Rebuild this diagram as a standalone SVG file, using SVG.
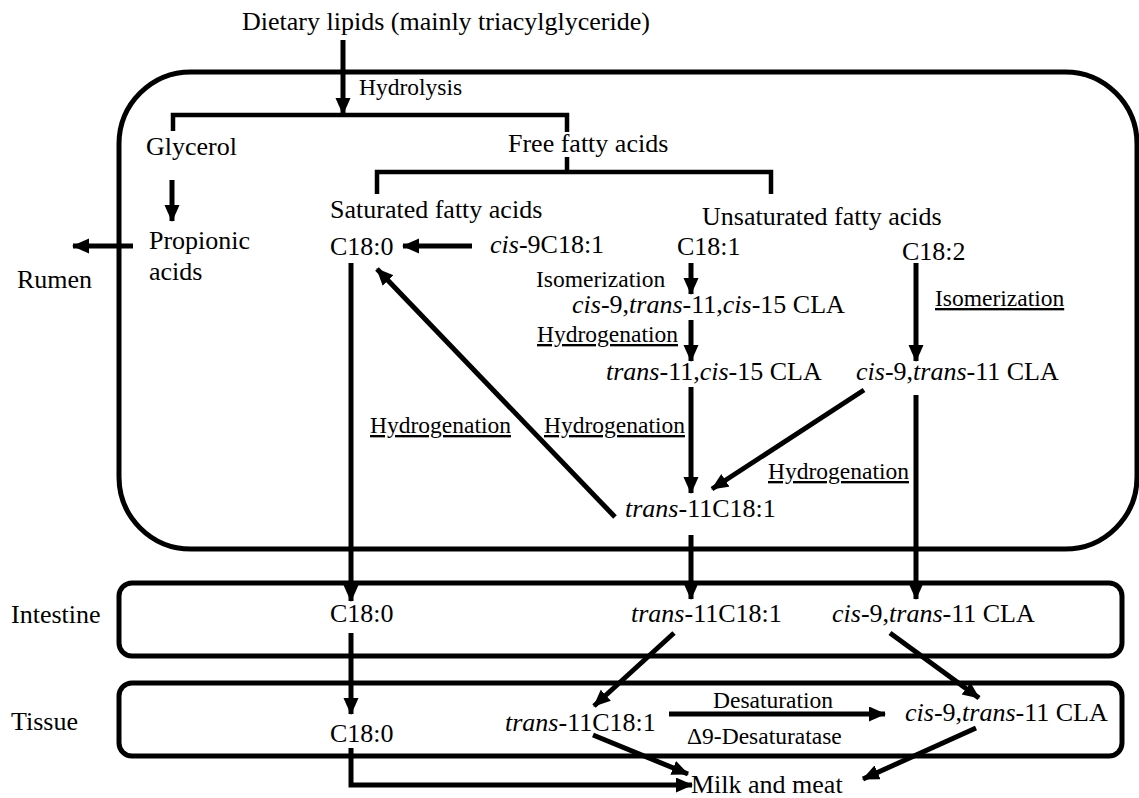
<svg xmlns="http://www.w3.org/2000/svg" width="1139" height="798" viewBox="0 0 1139 798">
<defs>
<marker id="ah" markerUnits="userSpaceOnUse" markerWidth="18" markerHeight="16" refX="16" refY="7.5" orient="auto">
<path d="M0,0 L17,7.5 L0,15 z" fill="#000"/>
</marker>
<style>
text{font-family:"Liberation Serif","Times New Roman",serif;fill:#000;}
.t{font-size:26px;}
.s{font-size:23.5px;}
.u{font-size:23.5px;text-decoration:underline;}
.box{fill:none;stroke:#000;stroke-width:5;}
.c{fill:none;stroke:#000;stroke-width:4.5;}
.a{fill:none;stroke:#000;stroke-width:5;marker-end:url(#ah);}
</style>
</defs>
<rect width="1139" height="798" fill="#fff"/>
<g id="compartments">
<rect id="rumen-box" class="box" x="119" y="72" width="1018" height="477" rx="72"/>
<rect id="intestine-box" class="box" x="119" y="583" width="1003" height="73" rx="13"/>
<rect id="tissue-box" class="box" x="119" y="683" width="1003" height="73" rx="13"/>
</g>
<g id="connectors">
<line class="a" x1="343" y1="40" x2="343" y2="114"/>
<path class="c" d="M173,131 V115 H567 V132"/>
<path class="c" d="M567,157 V172"/>
<path class="c" d="M377,194 V172 H771 V194"/>
<line class="a" x1="172" y1="180" x2="172" y2="221"/>
<line class="a" x1="133" y1="246" x2="73" y2="246"/>
<line class="a" x1="472" y1="246" x2="403" y2="246"/>
<line class="a" x1="691" y1="263" x2="691" y2="294"/>
<line class="a" x1="691" y1="320" x2="691" y2="361"/>
<line class="a" x1="916" y1="263" x2="916" y2="361"/>
<line class="a" x1="351" y1="263" x2="351" y2="601"/>
<line class="a" x1="615" y1="517" x2="377" y2="269"/>
<line class="a" x1="691" y1="387" x2="691" y2="493"/>
<line class="a" x1="864" y1="390" x2="712" y2="489"/>
<line class="a" x1="916" y1="395" x2="916" y2="599"/>
<line class="a" x1="691" y1="535" x2="691" y2="599"/>
<line class="a" x1="351" y1="633" x2="351" y2="714"/>
<line class="a" x1="674" y1="633" x2="594" y2="706"/>
<line class="a" x1="890" y1="633" x2="979" y2="698"/>
<line class="a" x1="669" y1="714" x2="885" y2="714"/>
<path class="a" d="M351,748 V785 H692"/>
<line class="a" x1="593" y1="735" x2="688" y2="774"/>
<line class="a" x1="976" y1="728" x2="863" y2="779"/>
</g>
<g id="labels">
<text class="t" x="242" y="30" font-size="26.5">Dietary lipids (mainly triacylglyceride)</text>
<text class="s" x="359" y="95">Hydrolysis</text>
<text class="t" x="146" y="155">Glycerol</text>
<text class="t" x="508" y="152">Free fatty acids</text>
<text class="t" x="149" y="249">Propionic</text>
<text class="t" x="149" y="280">acids</text>
<text class="t" x="17" y="288">Rumen</text>
<text class="t" x="330" y="218">Saturated fatty acids</text>
<text class="t" x="702" y="225">Unsaturated fatty acids</text>
<text class="t" x="330" y="255">C18:0</text>
<text class="t" x="490" y="253"><tspan font-style="italic">cis</tspan>-9C18:1</text>
<text class="t" x="677" y="255">C18:1</text>
<text class="t" x="902" y="260">C18:2</text>
<text class="s" x="536" y="287">Isomerization</text>
<text class="t" x="572" y="313"><tspan font-style="italic">cis</tspan>-9,<tspan font-style="italic">trans</tspan>-11,<tspan font-style="italic">cis</tspan>-15 CLA</text>
<text class="u" x="537" y="342">Hydrogenation</text>
<text class="u" x="935" y="306">Isomerization</text>
<text class="t" x="606" y="380"><tspan font-style="italic">trans</tspan>-11,<tspan font-style="italic">cis</tspan>-15 CLA</text>
<text class="t" x="856" y="380"><tspan font-style="italic">cis</tspan>-9,<tspan font-style="italic">trans</tspan>-11 CLA</text>
<text class="u" x="370" y="433">Hydrogenation</text>
<text class="u" x="544" y="433">Hydrogenation</text>
<text class="u" x="768" y="479">Hydrogenation</text>
<text class="t" x="625" y="517"><tspan font-style="italic">trans</tspan>-11C18:1</text>
<text class="t" x="11" y="623">Intestine</text>
<text class="t" x="330" y="622">C18:0</text>
<text class="t" x="631" y="622"><tspan font-style="italic">trans</tspan>-11C18:1</text>
<text class="t" x="832" y="622"><tspan font-style="italic">cis</tspan>-9,<tspan font-style="italic">trans</tspan>-11 CLA</text>
<text class="t" x="11" y="730">Tissue</text>
<text class="t" x="330" y="742">C18:0</text>
<text class="t" x="505" y="731"><tspan font-style="italic">trans</tspan>-11C18:1</text>
<text class="s" x="713" y="708">Desaturation</text>
<text class="t" x="905" y="721"><tspan font-style="italic">cis</tspan>-9,<tspan font-style="italic">trans</tspan>-11 CLA</text>
<text class="s" x="687" y="744">Δ9-Desaturatase</text>
<text class="t" x="691" y="793">Milk and meat</text>
</g>
</svg>
